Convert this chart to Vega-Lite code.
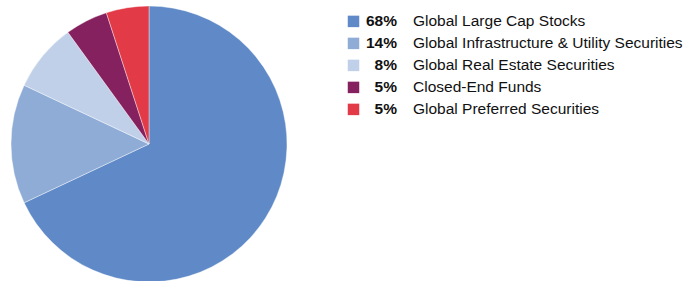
{
  "$schema": "https://vega.github.io/schema/vega-lite/v6.json",
  "background": "white",
  "padding": {"left": 0, "top": 5, "right": 0, "bottom": 0},
  "spacing": 0,
  "config": {"view": {"stroke": null}, "font": "Liberation Sans"},
  "data": {"values": [
    {"row": 1, "share": 0.68, "label": "Global Large Cap Stocks"},
    {"row": 2, "share": 0.14, "label": "Global Infrastructure & Utility Securities"},
    {"row": 3, "share": 0.08, "label": "Global Real Estate Securities"},
    {"row": 4, "share": 0.05, "label": "Closed-End Funds"},
    {"row": 5, "share": 0.05, "label": "Global Preferred Securities"}
  ]},
  "hconcat": [
    {
      "width": 298,
      "height": 276,
      "mark": {"type": "arc", "stroke": "white", "strokeWidth": 0.4},
      "encoding": {
        "theta": {"field": "share", "type": "quantitative", "stack": true},
        "order": {"field": "row", "type": "quantitative"},
        "color": {
          "field": "label", "type": "nominal",
          "scale": {
            "domain": ["Global Large Cap Stocks", "Global Infrastructure & Utility Securities", "Global Real Estate Securities", "Closed-End Funds", "Global Preferred Securities"],
            "range": ["#5F8AC7", "#8FACD7", "#BFD0E8", "#84215E", "#E23A46"]
          },
          "legend": null
        }
      }
    },
    {
      "width": 385,
      "height": 132,
      "encoding": {
        "y": {"field": "row", "type": "quantitative", "scale": {"domain": [0.3, 6.3], "reverse": true}, "axis": null}
      },
      "layer": [
        {
          "mark": {"type": "point", "shape": "square", "filled": true, "size": 132, "opacity": 1},
          "encoding": {
            "x": {"value": 55.5},
            "color": {
              "field": "label", "type": "nominal",
              "scale": {
                "domain": ["Global Large Cap Stocks", "Global Infrastructure & Utility Securities", "Global Real Estate Securities", "Closed-End Funds", "Global Preferred Securities"],
                "range": ["#5F8AC7", "#8FACD7", "#BFD0E8", "#84215E", "#E23A46"]
              },
              "legend": null
            }
          }
        },
        {
          "mark": {"type": "text", "align": "right", "baseline": "middle", "fontSize": 15.5, "fontWeight": "bold", "color": "#111111"},
          "encoding": {
            "x": {"value": 99},
            "text": {"field": "share", "type": "quantitative", "format": ".0%"}
          }
        },
        {
          "mark": {"type": "text", "align": "left", "baseline": "middle", "fontSize": 15.5, "color": "#111111"},
          "encoding": {
            "x": {"value": 115},
            "text": {"field": "label", "type": "nominal"}
          }
        }
      ]
    }
  ]
}
